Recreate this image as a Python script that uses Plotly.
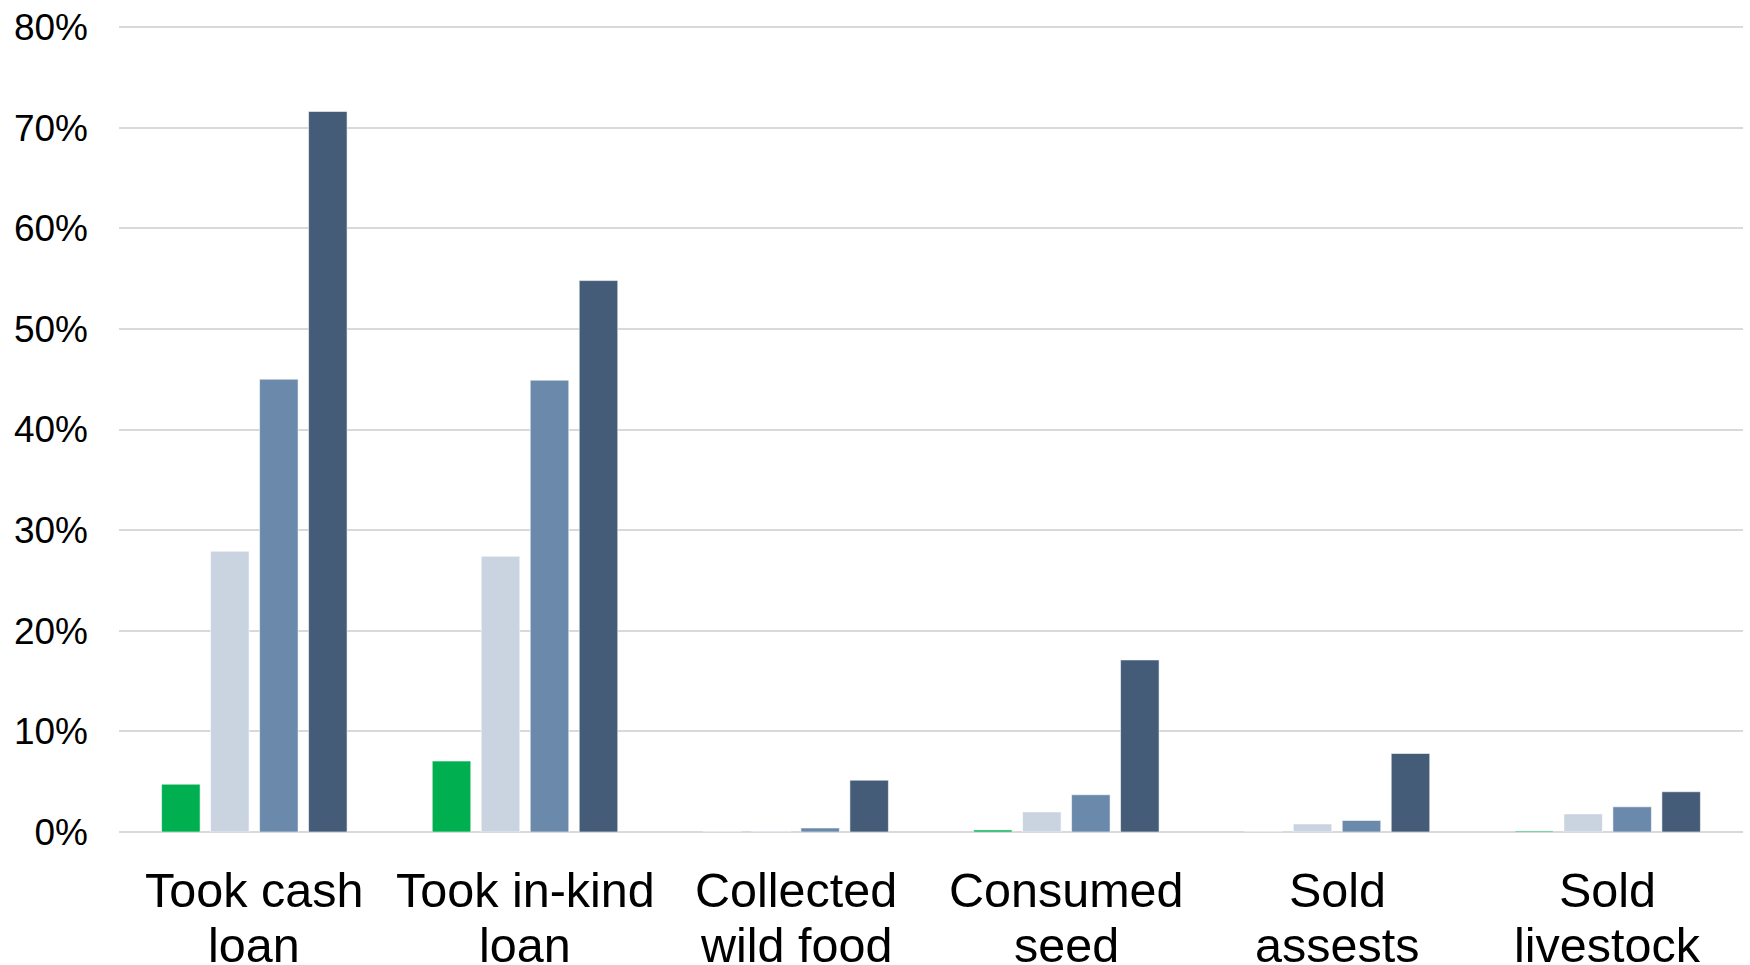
import plotly.graph_objects as go

# Coping strategies, share of households (%) per group
categories = ["Took cash loan", "Took in-kind loan", "Collected wild food",
              "Consumed seed", "Sold assests", "Sold livestock"]
label_line1 = ["Took cash", "Took in-kind", "Collected", "Consumed", "Sold", "Sold"]
label_line2 = ["loan", "loan", "wild food", "seed", "assests", "livestock"]

series_names = ["Group 1", "Group 2", "Group 3", "Group 4"]
group1 = [4.75, 7.05, 0.0, 0.2, 0.0, 0.1]
group2 = [27.9, 27.4, 0.1, 2.0, 0.8, 1.8]
group3 = [45.0, 44.9, 0.4, 3.7, 1.15, 2.5]
group4 = [71.6, 54.8, 5.15, 17.1, 7.8, 4.0]

y_ticks = [0, 10, 20, 30, 40, 50, 60, 70, 80]
y_tick_text = [f"{v}%" for v in y_ticks]

colors = ["#00B050", "#CAD4E1", "#6A89AB", "#455C79"]
FONT = "Liberation Sans, Arial, sans-serif"

fig = go.Figure()
for name, vals, col in zip(series_names, [group1, group2, group3, group4], colors):
    fig.add_trace(go.Bar(
        x=categories, y=vals, name=name,
        marker=dict(color=col, line=dict(color="rgba(255,255,255,0.55)", width=1)),
        showlegend=False,
    ))

# Two-line category labels, one annotation per line
for cat, l1, l2 in zip(categories, label_line1, label_line2):
    fig.add_annotation(x=cat, xref="x", y=-0.0725, yref="paper", text=l1,
                       showarrow=False, yanchor="middle", xanchor="center",
                       font=dict(family=FONT, size=48.5, color="#000000"))
    fig.add_annotation(x=cat, xref="x", y=-0.1405, yref="paper", text=l2,
                       showarrow=False, yanchor="middle", xanchor="center",
                       font=dict(family=FONT, size=48.5, color="#000000"))

fig.update_layout(
    width=1750, height=965,
    margin=dict(l=119, r=7, t=23, b=133),
    paper_bgcolor="white", plot_bgcolor="white",
    barmode="group", bargap=0.276, bargroupgap=0.214,
    font=dict(family=FONT, color="#000000"),
)
fig.update_xaxes(showticklabels=False, showgrid=False, showline=False, ticks="")
fig.update_yaxes(
    range=[0, 80.1], tickvals=y_ticks, ticktext=y_tick_text,
    tickfont=dict(family=FONT, size=37, color="#000000"),
    showgrid=True, gridcolor="#D9D9D9", gridwidth=1.5,
    zeroline=True, zerolinecolor="#D9D9D9", zerolinewidth=2,
    showline=False, ticks="", ticklabelstandoff=30,
)

fig.write_html("out.html")
